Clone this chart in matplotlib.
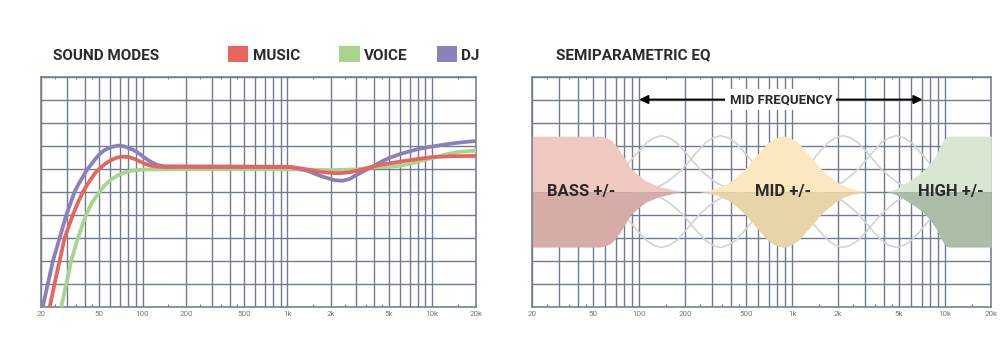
import numpy as np
import matplotlib
matplotlib.use("Agg")
import matplotlib.pyplot as plt
from matplotlib import font_manager as fm
from matplotlib.patches import Rectangle

# ---------------- data ----------------
FREQ_TICKS = [20, 50, 100, 200, 500, 1000, 2000, 5000, 10000, 20000]
FREQ_LABELS = ["20", "50", "100", "200", "500", "1k", "2k", "5k", "10k", "20k"]
HALF_TICKS = [25, 35, 45, 150, 250, 350, 450, 1500, 2500, 3500, 4500, 15000]

MUSIC_F = [21, 22.9, 24.7, 26.8, 29.0, 33.1, 36, 38.8, 41.5, 47, 50.6, 55, 60, 66, 73, 80,
           88, 95, 105, 115, 125, 140,
           1000, 1150, 1400, 1700, 2000, 2300, 2700, 3200, 3900, 4500, 5000, 6000,
           8000, 10000, 14000, 20000]
MUSIC_Y = [-1.1, 0, 1, 2, 3, 4, 4.55, 5, 5.3, 5.8, 6.0, 6.2, 6.35, 6.47, 6.52, 6.5,
           6.42, 6.32, 6.2, 6.12, 6.09, 6.07,
           6.07, 6.04, 5.95, 5.86, 5.81, 5.8, 5.84, 5.94, 6.09, 6.17, 6.22, 6.3,
           6.42, 6.5, 6.54, 6.55]

VOICE_F = [26, 27.5, 29.8, 32.2, 35.9, 38, 40.9, 44.5, 50.6, 55, 60, 68, 76, 85, 100, 200,
           1000, 2000, 3000, 4000, 5000, 6000, 7000, 8500, 10000, 12500, 15000, 20000]
VOICE_Y = [-0.9, 0, 1, 2, 3, 3.45, 4, 4.5, 5, 5.28, 5.5, 5.72, 5.84, 5.91, 5.96, 5.97,
           5.97, 5.93, 5.97, 6.05, 6.08, 6.12, 6.2, 6.35, 6.45, 6.62, 6.72, 6.78]

DJ_F = [20, 20.5, 22.2, 24.1, 26.8, 29.8, 34, 36, 40, 42, 45, 50, 54, 58, 63, 68, 74, 80,
        87, 95, 102, 110, 118, 125, 132, 140,
        1000, 1100, 1350, 1700, 2100, 2400, 2700, 3000, 3400, 3900, 4400, 5000, 6000,
        8000, 10000, 14000, 20000]
DJ_Y = [-0.3, 0, 1, 2, 3, 4, 5, 5.3, 5.8, 6.0, 6.25, 6.6, 6.78, 6.88, 6.96, 7.0, 6.97,
        6.9, 6.8, 6.65, 6.5, 6.35, 6.25, 6.17, 6.13, 6.1,
        6.08, 6.05, 5.92, 5.68, 5.5, 5.47, 5.55, 5.72, 5.9, 6.09, 6.28, 6.45, 6.63,
        6.85, 6.96, 7.1, 7.2]

SERIES = ["MUSIC", "VOICE", "DJ"]
COLORS = {"MUSIC": "#e8645c", "VOICE": "#a8d48c", "DJ": "#8a80bb"}

# EQ panel
EQ_BASE = 5.0
BASS_F = [20, 55.4, 60, 66, 74.8, 80.7, 87, 93.8, 109, 133, 163, 189]
BASS_H = [2.41, 2.41, 2.36, 2.22, 1.78, 1.42, 1.06, 0.84, 0.48, 0.23, 0.09, 0.0]
HIGH_F = [4144, 4768, 5600, 6340, 7190, 7946, 8794, 9240, 9710, 10220, 10740, 20000]
HIGH_H = [0.0, 0.13, 0.40, 0.63, 0.91, 1.22, 1.64, 1.96, 2.22, 2.39, 2.41, 2.41]
MID_CENTER = 870
MID_AMP = 2.43
BELL_OFFS = [0.0, 0.05, 0.1, 0.15, 0.2, 0.25, 0.3, 0.35, 0.4, 0.45, 0.5, 0.55]
BELL_PROF = [1.0, 0.96, 0.87, 0.72, 0.56, 0.40, 0.28, 0.17, 0.10, 0.05, 0.02, 0.0]
GHOST_CENTERS = [140, 340, 2150, 4800]
ARROW_F = [100, 7100]
ARROW_Y = 9

# ---------------- fonts ----------------
def pick(*names):
    for n in names:
        try:
            fm.findfont(fm.FontProperties(family=n), fallback_to_default=False)
            return n
        except Exception:
            pass
    return "DejaVu Sans"

FONT = pick("Roboto", "Open Sans", "DejaVu Sans")
plt.rcParams["font.family"] = [FONT, "DejaVu Sans"]

W, H = 1000, 351
fig = plt.figure(figsize=(W / 100, H / 100), dpi=100)
fig.patch.set_facecolor("white")

def fx(x):
    return x / W

def fy(y):
    return 1 - y / H

GRID_C = "#6e7b91"
TXT_C = "#2b2b2b"
TICK_C = "#7a7a7a"

def make_axes(x0, x1, y0=76.5, y1=306.7):
    ax = fig.add_axes([fx(x0), fy(y1), fx(x1) - fx(x0), (y1 - y0) / H])
    ax.set_xscale("log")
    ax.set_xlim(20, 20000)
    ax.set_ylim(0, 10)
    ax.set_xticks(FREQ_TICKS)
    ax.set_xticklabels(FREQ_LABELS)
    minors = [m * d for d in (10, 100, 1000) for m in range(2, 10)] + [10000, 20000]
    ax.set_xticks([m for m in minors if m not in FREQ_TICKS], minor=True)
    ax.set_xticklabels([], minor=True)
    ax.set_yticks(range(0, 11))
    ax.set_yticklabels([])
    ax.tick_params(which="both", length=0, colors=TICK_C, labelsize=5.8, pad=3)
    ax.grid(True, which="both", color=GRID_C, lw=1.0, zorder=1)
    ax.set_axisbelow(True)
    for s in ax.spines.values():
        s.set_color(GRID_C)
        s.set_linewidth(1.1)
    ax.vlines(HALF_TICKS, 0, 0.13, color=GRID_C, lw=0.8, zorder=1)
    ax.vlines(HALF_TICKS, 9.87, 10, color=GRID_C, lw=0.8, zorder=1)
    for lab in ax.get_xticklabels():
        lab.set_color(TICK_C)
    return ax

# ---------------- left panel ----------------
axL = make_axes(41.3, 475.7)
data = {"MUSIC": (MUSIC_F, MUSIC_Y), "VOICE": (VOICE_F, VOICE_Y), "DJ": (DJ_F, DJ_Y)}
for name, z in (("VOICE", 3), ("DJ", 4), ("MUSIC", 5)):
    f, y = data[name]
    axL.plot(f, y, color=COLORS[name], lw=2.7, solid_capstyle="round",
             solid_joinstyle="round", zorder=z, clip_on=True)

fig.text(fx(53), fy(55.7), "SOUND MODES", fontsize=11, fontweight="bold",
         color=TXT_C, ha="left", va="center")
legend_pos = {"MUSIC": (227.7, 252.7), "VOICE": (339, 364), "DJ": (436.7, 461)}
for name in SERIES:
    px0, tx = legend_pos[name]
    fig.add_artist(Rectangle((fx(px0), fy(62.3)), 20.6 / W, 16.6 / H,
                             transform=fig.transFigure, facecolor=COLORS[name],
                             edgecolor="none"))
    fig.text(fx(tx), fy(55.7), name, fontsize=11, fontweight="bold",
             color=TXT_C, ha="left", va="center")

# ---------------- right panel ----------------
axR = make_axes(532.3, 991.3)

def halves(ax, f, h, c_up, c_dn, z):
    f = np.asarray(f, float)
    h = np.asarray(h, float)
    ax.fill_between(f, EQ_BASE, EQ_BASE + h, color=c_up, lw=0, zorder=z)
    ax.fill_between(f, EQ_BASE - h, EQ_BASE, color=c_dn, lw=0, zorder=z)

# ghost bells
offs = np.asarray(BELL_OFFS)
prof = np.asarray(BELL_PROF)
bell_x = np.concatenate([-offs[::-1], offs[1:]])
bell_p = np.concatenate([prof[::-1], prof[1:]])
for c in GHOST_CENTERS:
    fr = c * 10 ** bell_x
    axR.plot(fr, EQ_BASE + MID_AMP * bell_p, color="#d3d3d3", lw=1.2, zorder=2)
    axR.plot(fr, EQ_BASE - MID_AMP * bell_p, color="#d3d3d3", lw=1.2, zorder=2)

halves(axR, BASS_F, BASS_H, "#efc8bf", "#d5aca7", 3)
halves(axR, MID_CENTER * 10 ** bell_x, MID_AMP * bell_p, "#fbe8c0", "#e7d4a8", 3)
halves(axR, HIGH_F, HIGH_H, "#d8e6d2", "#abbda6", 3)

axR.text(24.8, EQ_BASE, "BASS +/-", fontsize=12, fontweight="bold", color=TXT_C,
         ha="left", va="center", zorder=6)
axR.text(MID_CENTER, EQ_BASE, "MID +/-", fontsize=12, fontweight="bold", color=TXT_C,
         ha="center", va="center", zorder=6)
axR.text(10800, EQ_BASE, "HIGH +/-", fontsize=12, fontweight="bold", color=TXT_C,
         ha="center", va="center", zorder=6)

axR.annotate("", xy=(ARROW_F[1], ARROW_Y), xytext=(ARROW_F[0], ARROW_Y),
             arrowprops=dict(arrowstyle="<|-|>", color="black", lw=1.3,
                             mutation_scale=13, shrinkA=0, shrinkB=0), zorder=6)
axR.text(np.sqrt(ARROW_F[0] * ARROW_F[1]), ARROW_Y, "MID FREQUENCY", fontsize=9.5,
         fontweight="bold", color=TXT_C, ha="center", va="center", zorder=7,
         bbox=dict(facecolor="white", edgecolor="none", pad=3))

fig.text(fx(556), fy(55), "SEMIPARAMETRIC EQ", fontsize=11, fontweight="bold",
         color=TXT_C, ha="left", va="center")

fig.savefig("out.png", dpi=100, facecolor="white")
